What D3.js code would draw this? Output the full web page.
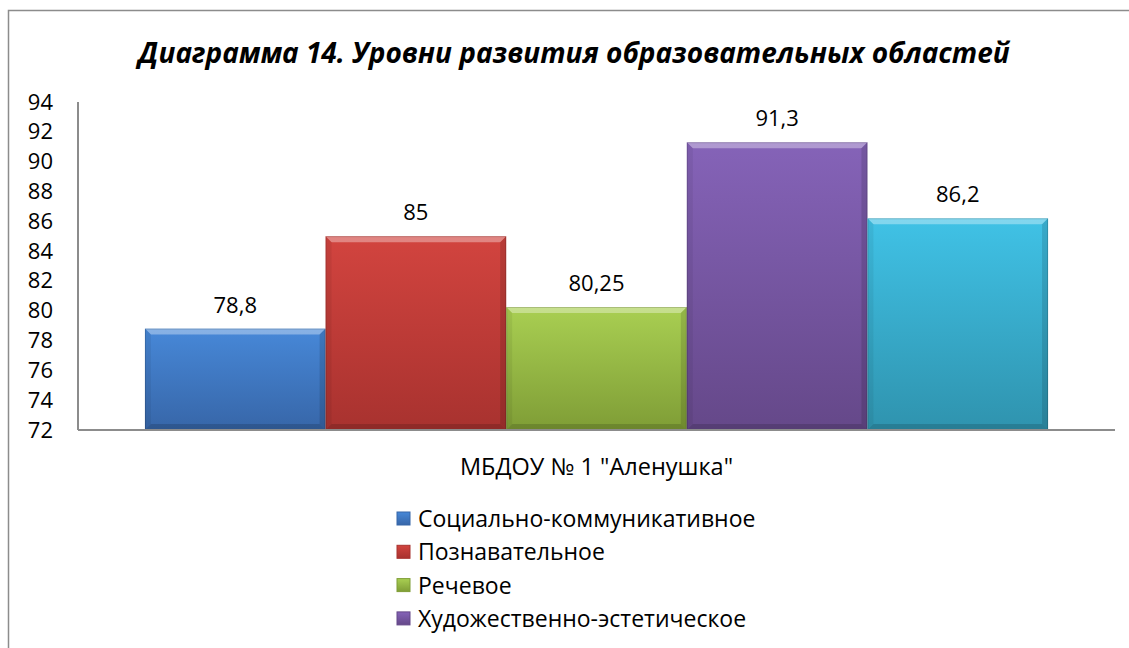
<!DOCTYPE html>
<html>
<head>
<meta charset="utf-8">
<script src="https://cdn.jsdelivr.net/npm/d3@7"></script>
<style>
  body { margin: 0; background: #fff; }
  text { font-family: "Open Sans", "Noto Sans", sans-serif; fill: #000; }
</style>
</head>
<body>
<div id="chart_area"></div>
<script>
var width = 1129
var height = 648

// Data
var title = "Диаграмма 14. Уровни развития образовательных областей"
var categories = ["МБДОУ № 1 \"Аленушка\""]
var seriesNames = ["Социально-коммуникативное", "Познавательное", "Речевое", "Художественно-эстетическое", "Физическое"]
var seriesValues = [78.8, 85, 80.25, 91.3, 86.2]
var yTicks = [72, 74, 76, 78, 80, 82, 84, 86, 88, 90, 92, 94]

// colours: [top, bottom]
var colors = [
  ["#4788d8", "#3766a8"],
  ["#d2443f", "#a8322f"],
  ["#a9cf52", "#7f9d36"],
  ["#8563b8", "#654889"],
  ["#40c2e6", "#2f93ae"]
]

var plot = {left: 78, right: 1115, top: 102, bottom: 430}
var legendBottom = 640

var ru = d3.formatLocale({decimal: ",", thousands: " ", grouping: [3], currency: ["", ""]})
var fmt = function (v) { return ru.format("~g")(v) }

var svg = d3.select("#chart_area")
  .append("svg")
  .attr("width", width)
  .attr("height", height)

var defs = svg.append("defs")

colors.forEach((c, i) => {
  var g = defs.append("linearGradient")
    .attr("id", "grad" + i)
    .attr("x1", 0).attr("y1", 0).attr("x2", 0).attr("y2", 1)
  g.append("stop").attr("offset", "0%").attr("stop-color", c[0])
  g.append("stop").attr("offset", "100%").attr("stop-color", c[1])
})

// chart frame
svg.append("rect")
  .attr("x", 8.5)
  .attr("y", 10.5)
  .attr("width", 1200)
  .attr("height", 700)
  .attr("fill", "#fff")
  .attr("stroke", "#8c8c8c")
  .attr("stroke-width", 1.5)

// title
svg.append("text")
  .attr("x", 574)
  .attr("y", 63)
  .attr("text-anchor", "middle")
  .style("font-size", "28px")
  .style("font-weight", "700")
  .style("font-style", "italic")
  .text(title)

// scales
var y = d3.scaleLinear()
  .domain([72, 94])
  .range([plot.bottom, plot.top])

var x0 = d3.scaleBand()
  .domain(categories)
  .range([plot.left, plot.right])
  .padding(0.069)

var x1 = d3.scaleBand()
  .domain(seriesNames)
  .range([0, x0.bandwidth()])
  .padding(0)

// y axis labels
var yAxis = d3.axisLeft(y)
  .tickValues(yTicks)
  .tickSize(0)
  .tickPadding(25)

var yg = svg.append("g")
  .attr("transform", "translate(" + plot.left + ",0)")
  .call(yAxis)
yg.select(".domain").remove()
yg.selectAll("text")
  .style("font-family", "\"Open Sans\", sans-serif")
  .style("font-size", "22px")
  .attr("fill", "#000")

// bars
var bevel = 6
var bars = svg.append("g")
  .attr("transform", "translate(" + x0(categories[0]) + ",0)")

seriesNames.forEach((name, i) => {
  var bx = x1(name)
  var bw = x1.bandwidth()
  var by = y(seriesValues[i])
  var bh = y(72) - by
  var g = bars.append("g")

  g.append("rect")
    .attr("x", bx)
    .attr("y", by)
    .attr("width", bw)
    .attr("height", bh)
    .attr("fill", "url(#grad" + i + ")")

  // bevel: top light, sides and bottom darker
  g.append("polygon")
    .attr("points", [[bx, by], [bx + bw, by], [bx + bw - bevel, by + bevel], [bx + bevel, by + bevel]].join(" "))
    .attr("fill", "#fff").attr("fill-opacity", 0.35)
  g.append("polygon")
    .attr("points", [[bx, by], [bx + bevel, by + bevel], [bx + bevel, by + bh - bevel], [bx, by + bh]].join(" "))
    .attr("fill", "#000").attr("fill-opacity", 0.06)
  g.append("polygon")
    .attr("points", [[bx + bw, by], [bx + bw - bevel, by + bevel], [bx + bw - bevel, by + bh - bevel], [bx + bw, by + bh]].join(" "))
    .attr("fill", "#000").attr("fill-opacity", 0.12)
  g.append("polygon")
    .attr("points", [[bx, by + bh], [bx + bevel, by + bh - bevel], [bx + bw - bevel, by + bh - bevel], [bx + bw, by + bh]].join(" "))
    .attr("fill", "#000").attr("fill-opacity", 0.15)
  g.append("rect")
    .attr("x", bx + 0.5)
    .attr("y", by + 0.5)
    .attr("width", bw - 1)
    .attr("height", bh - 1)
    .attr("fill", "none")
    .attr("stroke", "#000")
    .attr("stroke-opacity", 0.15)

  // value label
  g.append("text")
    .attr("x", bx + bw / 2)
    .attr("y", by - 16)
    .attr("text-anchor", "middle")
    .style("font-size", "22px")
    .text(fmt(seriesValues[i]))
})

// axis lines
svg.append("line")
  .attr("x1", plot.left).attr("x2", plot.left)
  .attr("y1", plot.top).attr("y2", plot.bottom)
  .attr("stroke", "#8c8c8c").attr("stroke-width", 2)
svg.append("line")
  .attr("x1", plot.left).attr("x2", plot.right)
  .attr("y1", plot.bottom).attr("y2", plot.bottom)
  .attr("stroke", "#8c8c8c").attr("stroke-width", 2)

// category label
svg.append("text")
  .attr("x", x0(categories[0]) + x0.bandwidth() / 2)
  .attr("y", 475)
  .attr("text-anchor", "middle")
  .style("font-size", "23.5px")
  .text(categories[0])

// legend: entries that do not fit in the chart area are dropped
var legend = svg.append("g")

seriesNames.forEach((name, i) => {
  var ly = 527 + i * 33.3
  if (ly > legendBottom) return
  var row = legend.append("g")
  row.append("rect")
    .attr("x", 397)
    .attr("y", ly - 15)
    .attr("width", 13)
    .attr("height", 13)
    .attr("fill", "url(#grad" + i + ")")
    .attr("stroke", colors[i][1])
    .attr("stroke-width", 1)
  row.append("text")
    .attr("x", 418)
    .attr("y", ly)
    .style("font-size", "23px")
    .text(name)
})
</script>
</body>
</html>
